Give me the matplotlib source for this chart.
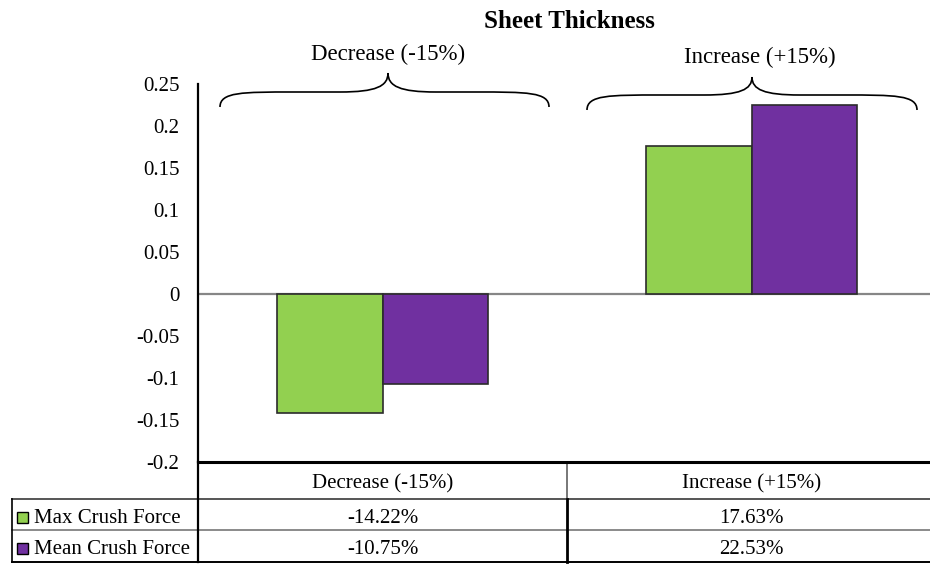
import matplotlib
matplotlib.use("Agg")
import matplotlib.pyplot as plt
from matplotlib.path import Path
from matplotlib.patches import PathPatch, Rectangle
import matplotlib.transforms as mtransforms
import numpy as np

plt.rcParams['font.family'] = ['Liberation Serif', 'DejaVu Serif']

# Data
categories = ["Decrease (-15%)", "Increase (+15%)"]
series_names = ["Max Crush Force", "Mean Crush Force"]
max_crush = [-14.22, 17.63]      # percent
mean_crush = [-10.75, 22.53]     # percent
yticks = [-0.2, -0.15, -0.1, -0.05, 0, 0.05, 0.1, 0.15, 0.2, 0.25]
ytick_labels = ["-0.2", "-0.15", "-0.1", "-0.05", "0", "0.05", "0.1", "0.15", "0.2", "0.25"]
title = "Sheet Thickness"

colors = ["#92D050", "#7030A0"]
FS = 15

W, H = 930, 564
fig = plt.figure(figsize=(W / 100, H / 100), dpi=100)
# plot area runs slightly past the right edge of the canvas
ax_l, ax_r, ax_t, ax_b = 198, 936, 84, 462
ax = fig.add_axes([ax_l / W, 1 - ax_b / H, (ax_r - ax_l) / W, (ax_b - ax_t) / H])

x = np.arange(len(categories))
bw = 0.287
series = [np.array(max_crush) / 100, np.array(mean_crush) / 100]
for i, (vals, c) in enumerate(zip(series, colors)):
    ax.bar(x + (i - 0.5) * bw, vals, width=bw, color=c, edgecolor="#2b2b2b",
           linewidth=1.2, zorder=3)

ax.set_xlim(-0.5, 1.5)
ax.set_ylim(-0.2, 0.25)
ax.set_yticks(yticks)
ax.set_yticklabels(ytick_labels)
ax.set_xticks([])
ax.tick_params(axis="y", length=0, pad=13.5, labelsize=FS)
ax.axhline(0, color="#868686", lw=1.6, zorder=2)
for s in ["top", "right"]:
    ax.spines[s].set_visible(False)
ax.spines["left"].set_linewidth(1.6)
ax.spines["bottom"].set_linewidth(2.2)
ax.spines["left"].set_color("black")
ax.spines["bottom"].set_color("black")

fig.text(569 / W, 1 - 21 / H, title, ha="center", va="center",
         fontsize=18, fontweight="bold")


def brace(x0, x1, xm, y_end, y_flat, y_tip, rx, cx):
    verts = [
        (x0, y_end),
        (x0, y_flat), (x0 + rx * 0.3, y_flat), (x0 + rx, y_flat),
        (xm - cx, y_flat),
        (xm - cx * 0.25, y_flat), (xm, y_flat + (y_tip - y_flat) * 0.3), (xm, y_tip),
        (xm, y_flat + (y_tip - y_flat) * 0.3), (xm + cx * 0.25, y_flat), (xm + cx, y_flat),
        (x1 - rx, y_flat),
        (x1 - rx * 0.3, y_flat), (x1, y_flat), (x1, y_end),
    ]
    codes = [Path.MOVETO,
             Path.CURVE4, Path.CURVE4, Path.CURVE4,
             Path.LINETO,
             Path.CURVE4, Path.CURVE4, Path.CURVE4,
             Path.CURVE4, Path.CURVE4, Path.CURVE4,
             Path.LINETO,
             Path.CURVE4, Path.CURVE4, Path.CURVE4]
    ax.add_patch(PathPatch(Path(verts, codes), fill=False, lw=1.2,
                           edgecolor="black", clip_on=False, zorder=4))


aw = ax_r - ax_l
ah = ax_b - ax_t


def dx(px):
    return (px - ax_l) / aw * 2 - 0.5


def dy(py):
    return (294 - py) / 840


brace(dx(220), dx(549), dx(388), dy(107), dy(92), dy(73), 0.2, 0.13)
brace(dx(587), dx(917), dx(752), dy(110), dy(95), dy(77), 0.2, 0.13)
ax.text(dx(388), dy(54), categories[0], ha="center", va="center", fontsize=16.5, clip_on=False)
ax.text(dx(760), dy(57), categories[1], ha="center", va="center", fontsize=16.5, clip_on=False)

# Data table below the plot
bt = mtransforms.blended_transform_factory(ax.transData, ax.transAxes)


def ay(py):
    return (ax_b - py) / ah


def axx(px):
    return (px - ax_l) / aw


left_px = 12
line_kw = dict(transform=ax.transAxes, clip_on=False)

# horizontal rules
ax.plot([axx(left_px), 1], [ay(499)] * 2, color="#555555", lw=1.4, **line_kw)
ax.plot([axx(left_px), 1], [ay(530)] * 2, color="#777777", lw=1.2, **line_kw)
ax.plot([axx(left_px), 1], [ay(562)] * 2, color="black", lw=1.4, **line_kw)
# vertical rules
ax.plot([0, 0], [ay(462), ay(562)], color="black", lw=1.6, **line_kw)
ax.plot([axx(left_px)] * 2, [ay(499), ay(562)], color="black", lw=1.2, **line_kw)
ax.plot([0.5, 0.5], [ay(462), ay(499)], color="#777777", lw=1.4,
        transform=bt, clip_on=False)
ax.plot([0.5, 0.5], [ay(499), ay(562)], color="black", lw=2.0,
        transform=bt, clip_on=False)

for i, cat in enumerate(categories):
    ax.text(x[i], ay(488), cat, ha="center", va="baseline",
            fontsize=FS, transform=bt, clip_on=False)

row_baselines = [523, 554]
for r, (name, vals, c) in enumerate(zip(series_names, [max_crush, mean_crush], colors)):
    yb = ay(row_baselines[r])
    ax.add_patch(Rectangle((axx(17), yb + 0.5 / ah), 11 / aw, 11 / ah,
                           facecolor=c, edgecolor="black", lw=1.0,
                           transform=ax.transAxes, clip_on=False))
    ax.text(axx(34), yb, name, ha="left", va="baseline", fontsize=FS,
            transform=ax.transAxes, clip_on=False)
    for i, v in enumerate(vals):
        ax.text(x[i], yb, f"{v:.2f}%", ha="center", va="baseline",
                fontsize=FS, transform=bt, clip_on=False)

fig.savefig("out.png", dpi=100)
